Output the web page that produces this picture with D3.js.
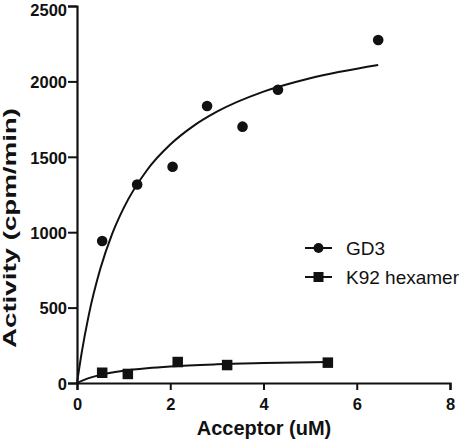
<!DOCTYPE html>
<html><head><meta charset="utf-8">
<script src="https://cdn.jsdelivr.net/npm/d3@7"></script>
<style>body{margin:0;background:#fff}svg{display:block}</style>
</head><body>
<script>
// Data
const gd3X = [0.54, 1.29, 2.05, 2.79, 3.55, 4.31, 6.46];
const gd3Y = [942, 1316, 1434, 1837, 1700, 1945, 2275];
const k92X = [0.54, 1.09, 2.16, 3.22, 5.38];
const k92Y = [68, 60, 139, 119, 135];
// fitted curves
const gd3FitX = [0, 0.1, 0.25, 0.5, 0.75, 1, 1.5, 2, 2.5, 3, 4, 5, 6.46];
const gd3FitY = [0, 200, 447, 757, 986, 1160, 1411, 1581, 1705, 1799, 1932, 2021, 2109];
const k92FitX = [0, 0.1, 0.25, 0.5, 1, 1.5, 2, 3, 4, 5.38];
const k92FitY = [0, 14.5, 32, 54, 81, 98, 110, 124, 132, 140];
const xTicks = [0, 2, 4, 6, 8];
const yTicks = [0, 500, 1000, 1500, 2000, 2500];
const seriesNames = ["GD3", "K92 hexamer"];
const xTitle = "Acceptor (uM)";
const yTitle = "Activity (cpm/min)";

const W = 466, H = 443;
const font = "'Liberation Sans', Arial, Helvetica, sans-serif";
const ink = "#111";
const svg = d3.select("body").append("svg").attr("width", W).attr("height", H);
const x = d3.scaleLinear().domain([0, 8]).range([77, 450]);
const y = d3.scaleLinear().domain([0, 2500]).range([383, 6]);

const gx = svg.append("g").attr("transform", `translate(0,${y(0)})`)
  .call(d3.axisBottom(x).tickValues(xTicks).tickSize(7).tickPadding(8).tickFormat(d3.format("d")));
const gy = svg.append("g").attr("transform", `translate(${x(0)},0)`)
  .call(d3.axisLeft(y).tickValues(yTicks).tickSize(9).tickPadding(1).tickFormat(d3.format("d")));
[gx, gy].forEach(g => {
  g.select(".domain").attr("stroke", ink).attr("stroke-width", 2.2);
  g.selectAll(".tick line").attr("stroke", ink).attr("stroke-width", 2);
  g.selectAll(".tick text").attr("fill", ink).style("font-family", font)
    .style("font-size", "16.5px").style("font-weight", "bold");
});
gy.selectAll(".tick text").attr("dy", "0.38em");
// keep the top label inside the page
gy.selectAll(".tick").filter(d => d === d3.max(yTicks)).select("text").attr("y", 3);

svg.append("text").attr("x", 264).attr("y", 435).attr("text-anchor", "middle")
  .style("font-family", font).style("font-size", "20px").style("font-weight", "bold")
  .attr("fill", ink).text(xTitle);
svg.append("text").attr("transform", "translate(16,228) rotate(-90)").attr("text-anchor", "middle")
  .style("font-family", font).style("font-size", "18px").style("font-weight", "bold")
  .attr("textLength", 240).attr("lengthAdjust", "spacingAndGlyphs")
  .attr("fill", ink).text(yTitle);

const line = d3.line().x(d => x(d[0])).y(d => y(d[1])).curve(d3.curveMonotoneX);
svg.append("path").datum(d3.zip(gd3FitX, gd3FitY)).attr("d", line)
  .attr("fill", "none").attr("stroke", ink).attr("stroke-width", 2);
svg.append("path").datum(d3.zip(k92FitX, k92FitY)).attr("d", line)
  .attr("fill", "none").attr("stroke", ink).attr("stroke-width", 2);

svg.append("g").selectAll("circle").data(d3.zip(gd3X, gd3Y)).join("circle")
  .attr("cx", d => x(d[0])).attr("cy", d => y(d[1])).attr("r", 5.3).attr("fill", ink);
const sq = 10.5;
svg.append("g").selectAll("rect").data(d3.zip(k92X, k92Y)).join("rect")
  .attr("x", d => x(d[0]) - sq / 2).attr("y", d => y(d[1]) - sq / 2)
  .attr("width", sq).attr("height", sq).attr("fill", ink);

// legend
const leg = svg.append("g");
seriesNames.forEach((name, i) => {
  const ly = 248 + i * 29;
  leg.append("line").attr("x1", 305).attr("x2", 332).attr("y1", ly).attr("y2", ly)
    .attr("stroke", ink).attr("stroke-width", 2);
  if (i === 0) leg.append("circle").attr("cx", 318.5).attr("cy", ly).attr("r", 5).attr("fill", ink);
  else leg.append("rect").attr("x", 318.5 - 5).attr("y", ly - 5).attr("width", 10).attr("height", 10).attr("fill", ink);
  leg.append("text").attr("x", 346).attr("y", ly).attr("dy", "0.36em")
    .style("font-family", font).style("font-size", "19px").attr("fill", ink).text(name);
});
</script>
</body></html>
